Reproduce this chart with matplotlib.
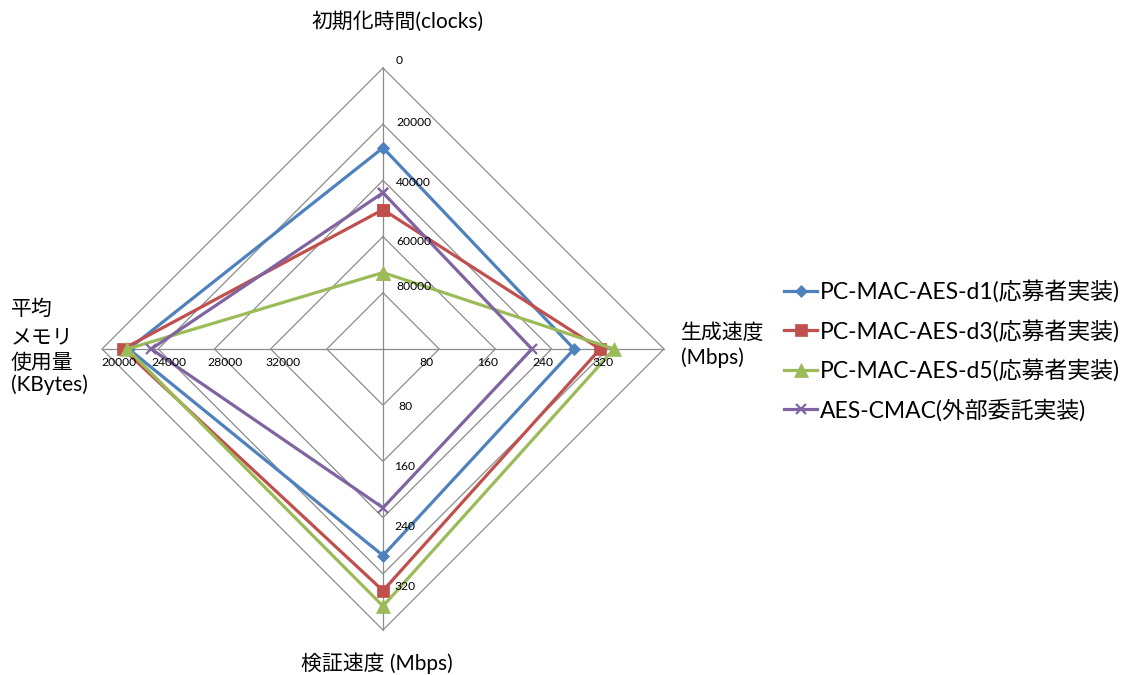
import matplotlib
matplotlib.use("Agg")
import matplotlib.pyplot as plt
import numpy as np

# Four implementations compared on four metrics
series_names = [
    "PC-MAC-AES-d1(応募者実装)",
    "PC-MAC-AES-d3(応募者実装)",
    "PC-MAC-AES-d5(応募者実装)",
    "AES-CMAC(外部委託実装)",
]
init_clocks = [28400, 50400, 72800, 44400]   # 初期化時間 (clocks), lower is better
gen_mbps = [272, 309, 329, 212]              # 生成速度 (Mbps)
verify_mbps = [294, 344, 366, 226]           # 検証速度 (Mbps)
memory_kb = [21900, 21500, 21800, 23500]     # 平均メモリ使用量 (KBytes), lower is better

top_ticks = ["0", "20000", "40000", "60000", "80000"]
right_ticks = ["80", "160", "240", "320"]
bottom_ticks = ["80", "160", "240", "320"]
left_ticks = ["20000", "24000", "28000", "32000"]

colors = ["#4F81BD", "#C0504D", "#9BBB59", "#8064A2"]
markers = ["D", "s", "^", "x"]
msizes = [6.5, 8.5, 9.5, 7]

W, H = 1128, 675
plt.rcParams["font.family"] = ["Lato", "Noto Sans CJK JP"]
fig = plt.figure(figsize=(W / 100, H / 100), dpi=100)


def fpos(x, y):
    return x / W, 1 - y / H


# polar axes: centre (383, 349) px, outer ring radius 281 px
cx, cy, R = 383, 349, 281
ax = fig.add_axes([(cx - R) / W, (H - cy - R) / H, 2 * R / W, 2 * R / H],
                  projection="polar")
ax.set_theta_zero_location("N")
ax.set_theta_direction(-1)
ax.set_ylim(0, 5)
ax.axis("off")

angles = np.array([0, np.pi / 2, np.pi, 3 * np.pi / 2])
ring = np.append(angles, angles[0])

# diamond grid and spokes
for k in range(1, 6):
    ax.plot(ring, [k] * 5, color="#8c8c8c", lw=0.9, clip_on=False, zorder=1)
for a in angles:
    ax.plot([a, a], [0, 5], color="#8c8c8c", lw=0.9, clip_on=False, zorder=1)

# each metric has its own scale on its spoke
top_r = 5 - np.array(init_clocks) / 20000
right_r = np.array(gen_mbps) / 80
bottom_r = np.array(verify_mbps) / 80
left_r = 5 - (np.array(memory_kb) - 20000) / 4000

handles = []
for i, name in enumerate(series_names):
    rs = [top_r[i], right_r[i], bottom_r[i], left_r[i], top_r[i]]
    (ln,) = ax.plot(ring, rs, color=colors[i], lw=2.3, marker=markers[i],
                    ms=msizes[i], mew=1.6 if markers[i] == "x" else 0.5,
                    mec=colors[i], label=name, clip_on=False, zorder=3 + i)
    handles.append(ln)

# scale labels along each spoke
tick_fs = 8.7
for t, y in zip(top_ticks, [61, 122, 182, 242, 287]):
    fig.text(*fpos(396, y), t, fontsize=tick_fs, ha="left", va="center")
for t, x in zip(right_ticks, [426, 488, 543, 603]):
    fig.text(*fpos(x, 363), t, fontsize=tick_fs, ha="center", va="center")
for t, y in zip(bottom_ticks, [407, 467, 527, 587]):
    fig.text(*fpos(405, y), t, fontsize=tick_fs, ha="center", va="center")
for t, x in zip(left_ticks, [119, 169, 225, 283]):
    fig.text(*fpos(x, 362), t, fontsize=tick_fs, ha="center", va="center")

# metric names
lab_fs = 15
fig.text(*fpos(398, 22), "初期化時間(clocks)", fontsize=lab_fs, ha="center", va="center")
for line, y in zip(["平均", "メモリ", "使用量", "(KBytes)"], [309, 337, 363, 385]):
    fig.text(*fpos(11, y), line, fontsize=lab_fs, ha="left", va="center")
fig.text(*fpos(681, 333), "生成速度", fontsize=lab_fs, ha="left", va="center")
fig.text(*fpos(681, 358), "(Mbps)", fontsize=lab_fs, ha="left", va="center")
fig.text(*fpos(377, 663), "検証速度 (Mbps)", fontsize=lab_fs, ha="center", va="center")

fig.legend(handles=handles, loc="upper left", bbox_to_anchor=fpos(784, 280),
           frameon=False, fontsize=16.5, borderpad=0, borderaxespad=0,
           handlelength=1.45, handletextpad=0.1, labelspacing=0.72, numpoints=1)

fig.savefig("out.png", dpi=100, facecolor="white")
